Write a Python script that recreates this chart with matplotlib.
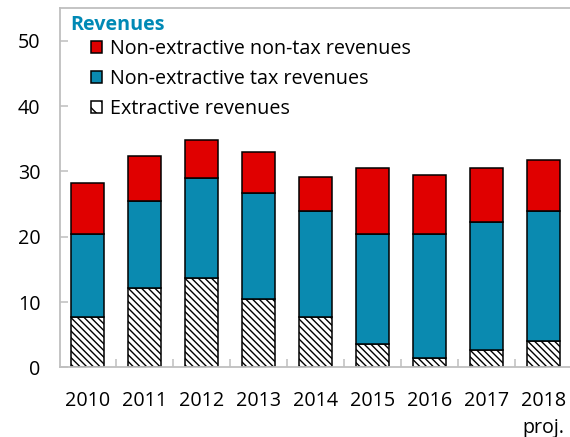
import numpy as np
import matplotlib
matplotlib.use("Agg")
import matplotlib.pyplot as plt
from matplotlib.patches import Patch

plt.rcParams['font.family'] = ['Open Sans', 'DejaVu Sans']
plt.rcParams['hatch.linewidth'] = 1.0

# data (percent of non-extractive GDP)
years = ['2010', '2011', '2012', '2013', '2014', '2015', '2016', '2017', '2018\nproj.']
extractive = [7.7, 12.2, 13.7, 10.4, 7.7, 3.5, 1.4, 2.6, 4.1]
tax = [12.7, 13.3, 15.3, 16.3, 16.3, 16.9, 19.0, 19.7, 19.9]
nontax = [7.8, 6.8, 5.8, 6.3, 5.1, 10.2, 9.0, 8.3, 7.7]

red = '#E00000'
blue = '#0A8AB0'
teal = '#0089B5'
grey = '#BFBFBF'
fs = 14.2

fig = plt.figure(figsize=(5.7, 4.37), dpi=100)
ax = fig.add_axes([60 / 570, 69.7 / 437, 510 / 570, 359 / 437])

x = np.arange(len(years))
w = 0.585
ext = np.array(extractive)
tx = np.array(tax)
ntx = np.array(nontax)

hatch = '\\\\\\\\\\'
ax.bar(x, ext, w, color='white', edgecolor='black', linewidth=1.1, hatch=hatch)
ax.bar(x, tx, w, bottom=ext, color=blue, edgecolor='black', linewidth=1.1)
ax.bar(x, ntx, w, bottom=ext + tx, color=red, edgecolor='black', linewidth=1.1)

ax.set_xlim(-0.483, 8.47)
ax.set_ylim(0, 55)
ax.set_yticks([0, 10, 20, 30, 40, 50])
ax.set_xticks(x)
ax.set_xticklabels(years, linespacing=1.45)
ax.set_xticks(np.arange(len(years) - 1) + 0.5, minor=True)

ax.tick_params(axis='y', direction='in', length=6, width=1.1, color=grey,
               labelsize=fs, pad=14)
ax.tick_params(axis='x', which='major', length=0, labelsize=fs, pad=17)
ax.tick_params(axis='x', which='minor', direction='in', length=6, width=1.1, color=grey)

for s in ['left', 'bottom', 'top']:
    ax.spines[s].set_color(grey)
    ax.spines[s].set_linewidth(1.3)
ax.spines['right'].set_visible(False)

ax.text(10 / 510, 1 - 17 / 359, 'Revenues', transform=ax.transAxes, color=teal,
        fontsize=fs, fontweight='bold', va='center', ha='left')

handles = [Patch(facecolor=red, edgecolor='black', linewidth=1.1),
           Patch(facecolor=blue, edgecolor='black', linewidth=1.1),
           Patch(facecolor='white', edgecolor='black', linewidth=1.1, hatch='\\\\')]
labels = ['Non-extractive non-tax revenues', 'Non-extractive tax revenues', 'Extractive revenues']
ax.legend(handles, labels, loc='upper left', bbox_to_anchor=(31 / 510, 1 - 31 / 359),
          frameon=False, fontsize=fs, handlelength=0.56, handleheight=0.56,
          handletextpad=0.42, labelspacing=0.5, borderpad=0, borderaxespad=0)

fig.savefig('out.png', dpi=100)
